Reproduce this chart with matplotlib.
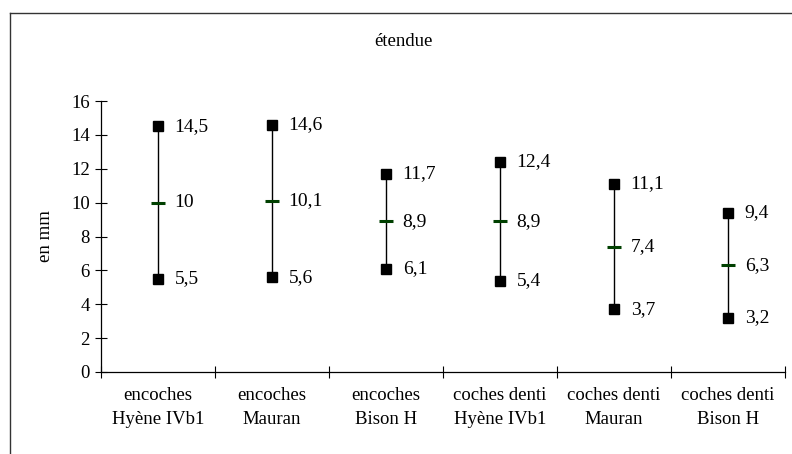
import numpy as np
import matplotlib
matplotlib.use('Agg')
import matplotlib.pyplot as plt
from matplotlib.lines import Line2D

# Data
categories = ['encoches\nHyène IVb1', 'encoches\nMauran', 'encoches\nBison H',
              'coches denti\nHyène IVb1', 'coches denti\nMauran', 'coches denti\nBison H']
maxi = [14.5, 14.6, 11.7, 12.4, 11.1, 9.4]
moyenne = [10, 10.1, 8.9, 8.9, 7.4, 6.3]
mini = [5.5, 5.6, 6.1, 5.4, 3.7, 3.2]
max_labels = ['14,5', '14,6', '11,7', '12,4', '11,1', '9,4']
mean_labels = ['10', '10,1', '8,9', '8,9', '7,4', '6,3']
min_labels = ['5,5', '5,6', '6,1', '5,4', '3,7', '3,2']

plt.rcParams['font.family'] = ['Liberation Serif', 'DejaVu Serif']
plt.rcParams['font.size'] = 13.5

fig = plt.figure(figsize=(7.92, 4.54), dpi=100)
ax = fig.add_axes([101/792, (454-372)/454, 684/792, 271/454])

x = np.arange(len(categories)) + 0.5

# range lines
ax.vlines(x, mini, maxi, color='black', linewidth=1)
# max / min squares
ax.plot(x, maxi, 's', color='black', markersize=7, linestyle='none')
ax.plot(x, mini, 's', color='black', markersize=7, linestyle='none')
# mean dash
ax.plot(x, moyenne, '_', color='#004000', markersize=10, markeredgewidth=2.2, linestyle='none')

for vals, labels in [(maxi, max_labels), (moyenne, mean_labels), (mini, min_labels)]:
    for xi, v, t in zip(x, vals, labels):
        ax.annotate(t, (xi, v), xytext=(12, 0), textcoords='offset points',
                    va='center', ha='left', fontsize=14)

ax.set_xlim(0, 6)
ax.set_ylim(0, 16)
ax.set_yticks(range(0, 17, 2))
ax.set_xticks(range(0, 7))
ax.set_xticklabels([])
ax.set_xticks(x, minor=True)
ax.set_xticklabels(categories, minor=True, linespacing=1.5, fontsize=13.5)
ax.tick_params(axis='x', which='major', direction='inout', length=8, width=0.8)
ax.tick_params(axis='x', which='minor', length=0, pad=11)
ax.tick_params(axis='y', direction='inout', length=8, width=0.8, pad=4, labelsize=13.5)

ax.spines['top'].set_visible(False)
ax.spines['right'].set_visible(False)
ax.spines['left'].set_linewidth(0.9)
ax.spines['bottom'].set_linewidth(0.9)
ax.set_ylabel('en mm', labelpad=12, fontsize=13.5)

fig.text(403/792, 1 - 42/454, 'étendue', ha='center', va='center', fontsize=13.5)

# outer frame (left and top edges visible)
fig.add_artist(Line2D([10/792, 10/792], [0, 1 - 13/454], transform=fig.transFigure, color='#333333', linewidth=1))
fig.add_artist(Line2D([10/792, 1], [1 - 13/454, 1 - 13/454], transform=fig.transFigure, color='#333333', linewidth=1))

fig.savefig('out.png', dpi=100)
